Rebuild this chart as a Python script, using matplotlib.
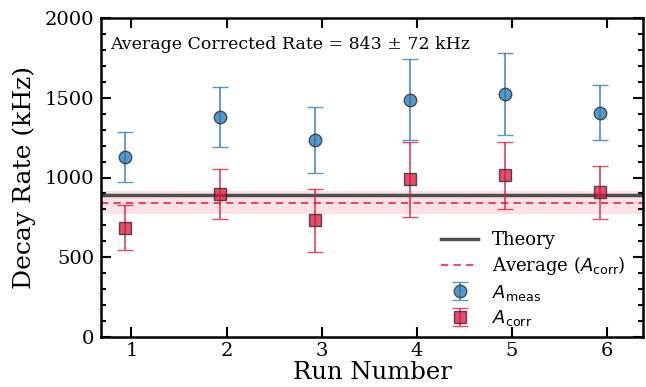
import numpy as np
import matplotlib
matplotlib.use("Agg")
import matplotlib.pyplot as plt

runs = np.array([1, 2, 3, 4, 5, 6])
a_meas = np.array([1128, 1378, 1236, 1488, 1521, 1407])
a_meas_err = np.array([155, 187, 206, 255, 257, 172])
a_corr = np.array([685, 897, 731, 988, 1013, 906])
a_corr_err = np.array([140, 155, 200, 236, 210, 166])
theory = 892
avg_corr = 843
avg_err = 72

plt.rcParams['font.family'] = ['DejaVu Serif']
plt.rcParams['mathtext.fontset'] = 'dejavusans'

fig = plt.figure(figsize=(6.46, 3.87), dpi=100)
ax = fig.add_axes([101/646, 1-337/387, (643-101)/646, (337-18)/387])

xoff = -0.07
blue = '#1f77b4'
red = '#dc143c'

ax.axhspan(avg_corr - avg_err, avg_corr + avg_err, color=red, alpha=0.12, lw=0, zorder=1)
ax.axhline(theory, color='#333333', lw=2.5, alpha=0.85, label='Theory', zorder=2)
ax.axhline(avg_corr, color=red, lw=1.5, ls=(0, (3.5, 2.5)), alpha=0.75,
           label=r'Average ($A_{\mathrm{corr}}$)', zorder=2)

ax.errorbar(runs + xoff, a_meas, yerr=a_meas_err, fmt='o', ms=9, color=blue,
            mfc=blue, mec='#222222', mew=1.0, ecolor=blue, elinewidth=1.3,
            capsize=6, capthick=1.3, alpha=0.75, label=r'$A_{\mathrm{meas}}$', zorder=3)
ax.errorbar(runs + xoff, a_corr, yerr=a_corr_err, fmt='s', ms=9, color=red,
            mfc=red, mec='#222222', mew=1.0, ecolor=red, elinewidth=1.3,
            capsize=6, capthick=1.3, alpha=0.75, label=r'$A_{\mathrm{corr}}$', zorder=3)

ax.set_xlim(0.68, 6.38)
ax.set_ylim(0, 2000)
ax.set_xticks(runs)
ax.set_yticks([0, 500, 1000, 1500, 2000])
ax.set_yticks(np.arange(0, 2001, 100), minor=True)
ax.tick_params(which='both', direction='in', top=True, right=True, width=1.5, labelsize=14)
ax.tick_params(which='major', length=7)
ax.tick_params(which='minor', length=3.5)
ax.tick_params(axis='x', which='minor', bottom=False, top=False)
ax.tick_params(axis='y', pad=5)
for s in ax.spines.values():
    s.set_linewidth(1.8)

ax.set_xlabel('Run Number', fontsize=17.5, labelpad=1)
ax.set_ylabel('Decay Rate (kHz)', fontsize=18, labelpad=6)

ax.text(0.016, 0.917, 'Average Corrected Rate = 843 \u00b1 72 kHz', transform=ax.transAxes,
        fontsize=12.5, va='center', ha='left')

ax.legend(loc='lower right', frameon=False, fontsize=13, handlelength=2.0,
          labelspacing=0.3, bbox_to_anchor=(0.998, -0.023), markerscale=1.0)

fig.savefig('out.png', dpi=100)
